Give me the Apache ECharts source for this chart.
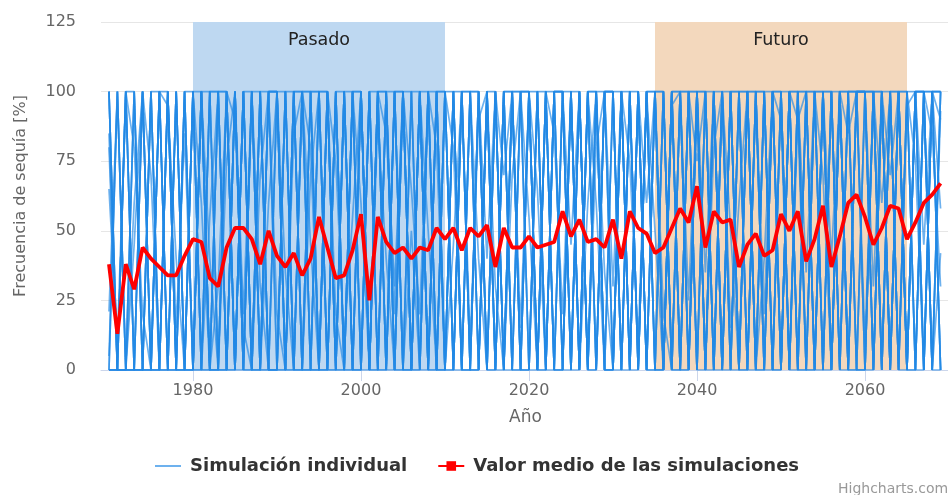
<!DOCTYPE html>
<html><head><meta charset="utf-8">
<script src="https://cdn.jsdelivr.net/npm/echarts@6/dist/echarts.min.js"></script>
<style>html,body{margin:0;padding:0;background:#fff}#c{width:948px;height:495px}</style>
</head><body><div id="c"></div>
<script>
const years = [1970,1971,1972,1973,1974,1975,1976,1977,1978,1979,
1980,1981,1982,1983,1984,1985,1986,1987,1988,1989,
1990,1991,1992,1993,1994,1995,1996,1997,1998,1999,
2000,2001,2002,2003,2004,2005,2006,2007,2008,2009,
2010,2011,2012,2013,2014,2015,2016,2017,2018,2019,
2020,2021,2022,2023,2024,2025,2026,2027,2028,2029,
2030,2031,2032,2033,2034,2035,2036,2037,2038,2039,
2040,2041,2042,2043,2044,2045,2046,2047,2048,2049,
2050,2051,2052,2053,2054,2055,2056,2057,2058,2059,
2060,2061,2062,2063,2064,2065,2066,2067,2068,2069];

const meanValues = [38,13,38,29,44,40,37,34,34,41,
47,46,33,30,44,51,51,47,38,50,
41,37,42,34,40,55,44,33,34,43,
56,25,55,46,42,44,40,44,43,51,
47,51,43,51,48,52,37,51,44,44,
48,44,45,46,57,48,54,46,47,44,
54,40,57,51,49,42,44,51,58,53,
66,44,57,53,54,37,45,49,41,43,
56,50,57,39,47,59,37,48,60,63,
55,45,51,59,58,47,53,60,63,67];

const simA = [100,0,100,0,0,100,100,0,100,0, 0,100,0,100,100,0,100,0,0,100, 100,100,0,0,100,0,100,0,100,0, 0,100,100,0,100,0,0,100,0,100, 100,0,100,0,0,100,0,100,100,0, 0,100,0,100,100,0,100,0,100,0, 100,0,0,100,0,100,100,0,0,100, 0,100,100,0,100,0,100,100,0,100, 100,0,100,0,0,100,0,100,0,100, 0,100,0,100,100,0,100,0,100,100];
const simB = [0,0,0,100,0,0,0,100,0,100, 100,0,100,0,0,100,0,100,100,0, 0,0,100,100,0,100,0,100,0,100, 100,0,0,100,0,100,100,0,100,0, 0,100,0,100,100,0,100,0,0,100, 100,0,100,0,0,100,0,100,0,100, 0,100,100,0,100,0,0,100,100,0, 100,0,0,100,0,100,0,0,100,0, 0,100,0,100,100,0,100,0,100,0, 100,0,100,0,100,100,0,100,0,0];
const simC = [100,0,0,0,100,0,0,100,0,0, 0,100,100,0,100,0,100,0,0,100, 100,0,100,0,0,0,100,0,100,100, 0,100,0,0,100,100,0,100,0,0, 100,0,100,100,0,100,0,100,0,0, 0,0,100,0,100,100,0,100,0,100, 100,100,0,100,0,100,0,100,0,0, 100,0,100,100,0,100,100,0,100,0, 0,100,100,0,100,0,100,100,0,100, 100,100,0,100,0,0,100,100,100,0];
const simD = [0,0,0,0,0,100,0,0,100,0, 100,0,0,100,0,100,0,100,0,0, 0,100,0,100,100,0,0,100,0,0, 100,0,100,100,0,0,100,0,100,0, 0,100,0,0,100,0,100,0,100,100, 100,100,0,100,0,0,100,0,100,0, 0,0,100,0,100,0,100,0,100,100, 0,100,0,0,100,0,0,100,0,100, 100,0,100,100,0,100,0,100,100,0, 0,0,100,0,100,100,0,100,0,100];
const simE = [0,0,100,0,100,0,0,0,0,100, 0,100,0,0,100,0,100,0,100,100, 100,0,0,0,100,100,0,0,100,0, 0,100,0,100,100,0,0,100,0,100, 0,100,100,0,0,100,0,100,0,0, 100,0,100,0,100,0,100,0,0,100, 100,0,100,100,0,0,100,0,100,0, 100,100,0,100,100,0,100,0,0,100, 0,100,0,0,100,0,100,0,100,100, 100,0,100,100,0,100,0,0,100,100];
const simF = [100,0,0,100,0,0,100,0,100,0, 100,0,100,0,100,0,0,0,100,0, 0,100,100,0,0,100,100,0,0,100, 100,0,100,0,0,100,0,100,0,0, 100,0,0,100,100,0,0,0,100,100, 0,100,0,100,0,100,0,100,100,0, 0,100,0,0,100,100,0,100,0,100, 0,0,100,0,100,100,0,100,100,0, 100,0,100,100,0,100,0,100,0,0, 0,100,100,0,100,0,100,100,0,100];
const simG = [0,0,0,0,100,0,100,0,0,100, 0,0,100,100,0,0,100,100,0,100, 100,0,0,100,100,0,0,100,0,0, 0,100,0,0,100,0,100,0,100,100, 0,0,100,0,0,100,100,0,100,0, 100,0,0,100,100,0,100,0,0,100, 100,0,100,0,100,0,0,100,100,0, 100,100,0,100,0,0,100,0,100,100, 0,100,100,0,0,100,100,0,100,100, 100,100,0,100,0,100,100,0,100,0];
const simH = [0,0,100,100,0,0,0,100,0,0, 100,100,0,0,0,100,0,0,100,0, 0,100,0,0,0,100,0,100,100,0, 100,0,100,100,0,0,0,100,100,0, 100,100,0,0,100,0,0,100,0,100, 0,100,100,0,0,100,0,100,100,0, 0,100,0,100,0,100,100,0,0,100, 100,0,100,0,100,100,0,100,0,0, 100,0,0,100,100,0,0,100,0,100, 100,0,100,0,100,0,100,100,0,100];
const simI = [0,100,0,0,0,100,0,100,0,0, 0,0,0,100,100,0,100,0,0,100, 0,0,100,100,0,0,100,0,0,100, 0,0,100,0,100,100,0,0,0,100, 0,100,0,100,0,100,0,100,100,0, 100,0,0,100,100,0,0,100,0,100, 100,0,100,0,100,0,0,100,0,100, 0,100,0,100,0,100,100,0,100,0, 100,100,0,0,100,100,0,100,100,0, 0,100,0,100,100,0,0,100,100,0];
const simJ = [100,0,0,0,0,0,100,0,0,0, 0,100,0,0,0,100,0,100,0,0, 100,0,100,0,100,0,0,0,100,0, 100,0,0,100,0,100,0,100,0,100, 0,0,100,0,100,0,100,0,100,0, 100,0,100,0,0,100,100,0,100,0, 0,100,0,100,0,100,0,100,0,0, 100,0,100,0,100,0,0,100,0,100, 0,100,0,100,0,100,100,0,0,100, 100,100,100,0,100,0,100,0,100,100];
const simK = [65,10,100,80,20,0,100,95,40,0, 100,60,0,30,100,90,15,0,70,100, 20,0,85,100,45,0,100,75,10,55, 100,0,90,40,0,100,65,20,100,80, 0,45,100,10,90,100,30,0,70,100, 55,0,100,85,20,100,0,60,100,35, 0,100,75,10,100,50,0,95,100,25, 100,0,80,100,15,60,100,0,40,100, 90,0,100,35,100,70,0,100,85,100, 10,100,60,100,0,95,100,45,100,58];
const simL = [21,100,0,45,100,70,0,100,15,85, 0,100,40,0,75,100,20,100,0,60, 100,35,0,100,80,0,100,20,0,100, 60,0,100,85,30,100,0,100,50,0, 100,80,0,100,40,0,100,70,100,15, 100,65,0,100,100,45,100,0,80,100, 30,100,0,100,60,100,20,0,100,100, 75,100,0,100,50,0,100,100,20,100, 0,100,90,0,100,100,40,100,0,100, 100,30,100,70,100,0,100,100,85,30];
const simM = [85,0,100,0,100,0,100,100,0,100, 0,100,0,100,0,0,100,0,100,0, 100,0,100,0,100,100,0,100,0,100, 0,100,0,100,0,100,0,0,100,0, 100,0,100,100,0,100,0,100,0,100, 0,100,0,0,100,0,100,0,100,0, 100,0,100,0,100,100,0,100,0,100, 0,100,0,100,0,100,0,100,100,0, 100,0,100,0,100,0,100,0,100,100, 0,100,0,100,0,100,0,100,0,93];
const simN = [0,100,0,100,0,100,0,0,100,0, 100,0,100,100,0,100,0,100,0,100, 0,100,0,100,0,100,100,0,100,0, 100,0,100,0,100,0,100,100,0,100, 0,100,0,0,100,0,100,0,100,0, 100,0,100,100,0,100,0,100,0,100, 0,100,0,100,0,0,100,0,100,0, 100,0,100,0,100,0,100,0,0,100, 0,100,0,100,0,100,0,100,0,0, 100,0,100,0,100,0,100,0,100,0];
const simO = [5,100,0,60,100,0,100,0,100,0, 100,0,55,100,0,100,0,100,30,0, 100,0,100,0,70,100,0,100,0,100, 0,100,0,100,20,100,0,100,0,100, 100,0,100,0,100,40,100,0,100,0, 0,100,0,100,0,100,0,100,60,0, 100,0,100,0,100,0,100,0,100,0, 100,35,100,0,100,0,100,0,100,0, 100,0,90,100,0,100,0,100,0,100, 0,100,0,100,0,100,75,0,100,90];
const simP = [80,0,100,0,0,100,0,100,0,100, 0,100,0,0,100,0,100,0,100,0, 0,100,0,100,0,0,100,0,100,0, 100,0,100,0,100,0,50,0,100,0, 0,100,0,100,0,100,0,100,0,100, 100,0,100,0,100,0,100,0,100,100, 0,100,0,100,0,100,0,100,0,100, 100,0,100,0,0,100,0,100,0,100, 0,100,0,100,0,0,100,0,100,0, 100,0,100,0,100,0,0,100,0,42];

const simulations = [simA, simB, simC, simD, simE, simF, simG, simH, simI, simJ, simK, simL, simM, simN, simO, simP];
const yTicks = [0, 25, 50, 75, 100, 125];
const xTickLabels = [1980, 2000, 2020, 2040, 2060];
const pastBand = {label: 'Pasado', from: 1980, to: 2010};
const futureBand = {label: 'Futuro', from: 2035, to: 2065};
const simName = 'Simulación individual';
const meanName = 'Valor medio de las simulaciones';

const FONT = 'DejaVu Sans';
const SIM_COLOR = 'rgba(33,136,229,0.66)';
const chart = echarts.init(document.getElementById('c'), null, {renderer: 'canvas'});

const series = simulations.map((s, k) => ({
  type: 'line',
  name: simName,
  data: years.map((y, i) => [y, s[i]]),
  symbol: 'none',
  silent: true,
  z: 2,
  lineStyle: {color: SIM_COLOR, width: 1.7},
  itemStyle: {color: SIM_COLOR},
  markArea: k === 0 ? {
    silent: true,
    z: 1,
    label: {position: 'insideTop', distance: 9, fontFamily: FONT, fontSize: 17.5, color: '#222'},
    data: [
      [{name: pastBand.label, xAxis: pastBand.from, itemStyle: {color: '#bed8f1'}}, {xAxis: pastBand.to}],
      [{name: futureBand.label, xAxis: futureBand.from, itemStyle: {color: '#f3d8bd'}}, {xAxis: futureBand.to}]
    ]
  } : undefined
}));

series.push({
  type: 'line',
  name: meanName,
  data: years.map((y, i) => [y, meanValues[i]]),
  symbol: 'rect',
  symbolSize: 10,
  showSymbol: false,
  silent: true,
  z: 5,
  lineStyle: {color: '#ff0000', width: 3.8},
  itemStyle: {color: '#ff0000'}
});

chart.setOption({
  animation: false,
  textStyle: {fontFamily: FONT},
  grid: {left: 101, top: 22, width: 849, height: 348, outerBoundsMode: 'none', containLabel: false},
  xAxis: {
    type: 'value',
    min: 1969.05,
    max: 2070.12,
    name: 'Año',
    nameLocation: 'middle',
    nameGap: 39,
    nameTextStyle: {fontFamily: FONT, fontSize: 17, color: '#666'},
    axisLine: {show: true, lineStyle: {color: '#ccd6eb'}},
    axisTick: {show: true, customValues: xTickLabels, length: 11, lineStyle: {color: '#ccd6eb'}},
    axisLabel: {customValues: xTickLabels, margin: 13, fontFamily: FONT, fontSize: 16, color: '#666', formatter: v => String(v)},
    splitLine: {show: false}
  },
  yAxis: {
    type: 'value',
    min: yTicks[0],
    max: yTicks[yTicks.length - 1],
    interval: 25,
    name: 'Frecuencia de sequía [%]',
    nameLocation: 'middle',
    nameRotate: 90,
    nameGap: 72,
    nameTextStyle: {fontFamily: FONT, fontSize: 16, color: '#666'},
    axisLine: {show: false},
    axisTick: {show: false},
    axisLabel: {margin: 25, fontFamily: FONT, fontSize: 16, color: '#666', formatter: v => String(v)},
    splitLine: {show: true, lineStyle: {color: '#e6e6e6', width: 1}}
  },
  legend: {
    data: [{name: simName, itemStyle: {opacity: 0}}, {name: meanName}],
    left: 149,
    top: 452,
    itemWidth: 26,
    itemHeight: 12,
    itemGap: 30,
    selectedMode: false,
    textStyle: {fontFamily: FONT, fontSize: 18, fontWeight: 'bold', color: '#333', padding: [0, 0, 0, 4]}
  },
  graphic: [{
    type: 'text', left: 838, top: 482,
    style: {text: 'Highcharts.com', fontFamily: FONT, fontSize: 14, fill: '#999'}
  }],
  series: series
});
</script></body></html>
